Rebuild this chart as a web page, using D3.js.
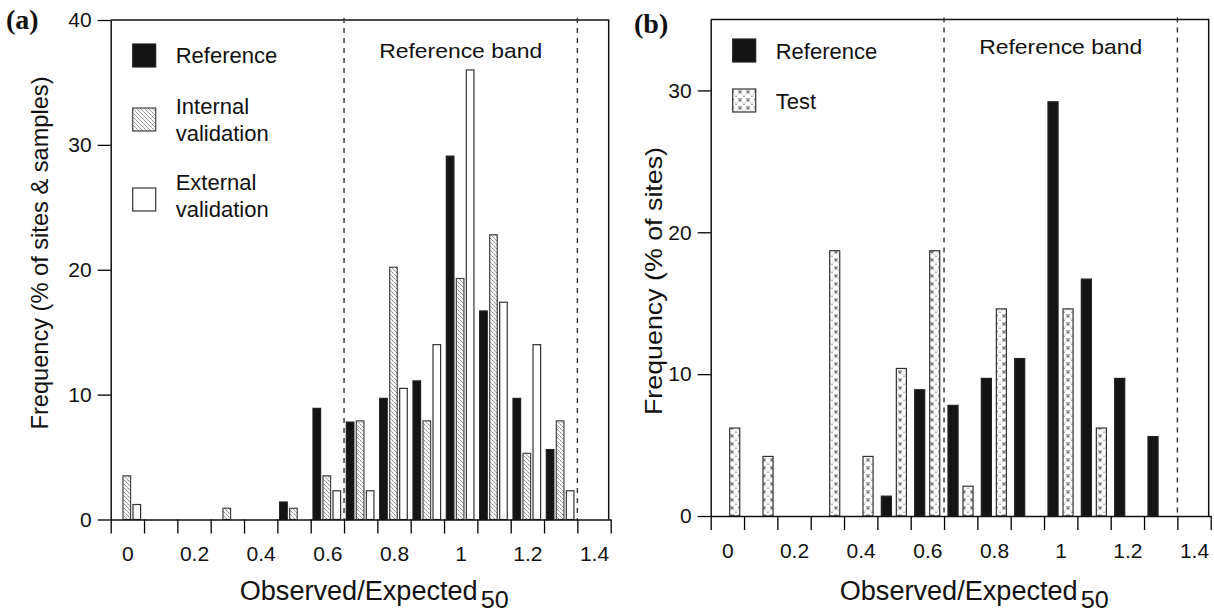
<!DOCTYPE html>
<html>
  <head>
    <meta charset="utf-8" />
    <title>Observed/Expected histograms</title>
    <script src="https://d3js.org/d3.v7.min.js"></script>
    <style>
      body { margin: 0; background: white; }
      svg text { font-family: "Liberation Sans", Arial, sans-serif; fill: #111; }
      .panel-tag { font-family: "Liberation Serif", "Times New Roman", serif; font-weight: bold; }
    </style>
  </head>
  <body>
    <svg id="viz"></svg>
    <script>

    // bins of Observed/Expected50 (bin centres)
    var categories = [0, 0.1, 0.2, 0.3, 0.4, 0.5, 0.6, 0.7, 0.8, 0.9, 1.0, 1.1, 1.2, 1.3, 1.4];
    var xTickLabels = [0, 0.2, 0.4, 0.6, 0.8, 1, 1.2, 1.4];
    var bandLimits = [0.65, 1.35];

    // panel (a) - % of sites & samples
    var refA      = [0, 0, 0, 0,   0, 1.4, 8.9, 7.8,  9.7, 11.1, 29.1, 16.7,  9.7, 5.6, 0];
    var internalA = [3.5, 0, 0, 0.9, 0, 0.9, 3.5, 7.9, 20.2, 7.9, 19.3, 22.8, 5.3, 7.9, 0];
    var externalA = [1.2, 0, 0, 0,   0, 0,   2.3, 2.3, 10.5, 14.0, 36.0, 17.4, 14.0, 2.3, 0];
    var yTicksA = [0, 10, 20, 30, 40];

    // panel (b) - % of sites
    var refB  = [0, 0, 0, 0, 0, 1.4, 8.9, 7.8, 9.7, 11.1, 29.2, 16.7, 9.7, 5.6, 0];
    var testB = [6.2, 4.2, 0, 18.7, 4.2, 10.4, 18.7, 2.1, 14.6, 0, 14.6, 6.2, 0, 0, 0];
    var yTicksB = [0, 10, 20, 30];

    var width = 1214, height = 615;

    var svg = d3.select("#viz")
      .attr("width", width)
      .attr("height", height);

    // fill patterns
    var defs = svg.append("defs");

    var pInt = defs.append("pattern")
      .attr("id", "patInternal")
      .attr("patternUnits", "userSpaceOnUse")
      .attr("width", 4).attr("height", 4);
    pInt.append("rect").attr("width", 4).attr("height", 4).attr("fill", "#f7f7f7");
    pInt.append("path").attr("d", "M0.3,0.3 L1.5,1.5 M2.3,2.3 L3.5,3.5")
      .attr("stroke", "#666").attr("stroke-width", 1);

    var pTest = defs.append("pattern")
      .attr("id", "patTest")
      .attr("patternUnits", "userSpaceOnUse")
      .attr("width", 8).attr("height", 8);
    pTest.append("rect").attr("width", 8).attr("height", 8).attr("fill", "#fbfbfb");
    pTest.append("path").attr("d", "M0,0 L8,8 M8,0 L0,8")
      .attr("stroke", "#999").attr("stroke-width", 0.8).attr("stroke-dasharray", "1.5,1.5");
    pTest.append("circle").attr("cx", 4).attr("cy", 4).attr("r", 1.2)
      .attr("fill", "none").attr("stroke", "#444").attr("stroke-width", 0.8);

    var styles = {
      ref:      { fill: "#141414", stroke: "#222" },
      internal: { fill: "url(#patInternal)", stroke: "#444" },
      external: { fill: "#ffffff", stroke: "#333" },
      test:     { fill: "url(#patTest)", stroke: "#333" }
    };

    function drawPanel(opt) {
      var g = svg.append("g");
      var catW = 500 / categories.length;

      var x = d3.scaleLinear()
        .domain([categories[0] - 0.05, categories[categories.length - 1] + 0.05])
        .range([opt.x0, opt.x0 + 500]);

      var y = d3.scaleLinear()
        .domain([0, opt.yMax])
        .range([opt.yZero, opt.yTop]);

      var inner = d3.scaleBand()
        .domain(opt.series.map(function(s) { return s.key; }))
        .range([0, catW])
        .paddingInner(opt.padInner)
        .paddingOuter(opt.padOuter)
        .align(opt.align);

      // frame: top and right
      g.append("path")
        .attr("d", "M" + opt.x0 + "," + opt.yTop + "H" + (opt.x0 + 498) + "V" + opt.yZero)
        .attr("fill", "none").attr("stroke", "#111").attr("stroke-width", 1.5);

      // reference band lines
      g.selectAll(".band").data(bandLimits).enter().append("line")
        .attr("x1", function(d) { return x(d); })
        .attr("x2", function(d) { return x(d); })
        .attr("y1", opt.yTop - 2).attr("y2", opt.yZero)
        .attr("stroke", "#333").attr("stroke-width", 1.4)
        .attr("stroke-dasharray", "5,5");

      // bars
      opt.series.forEach(function(s) {
        var rows = categories.map(function(c, i) { return { c: c, v: s.values[i] }; })
          .filter(function(d) { return d.v > 0; });
        g.selectAll(".bar-" + s.key).data(rows).enter().append("rect")
          .attr("x", function(d) { return x(d.c - 0.05) + inner(s.key); })
          .attr("width", inner.bandwidth())
          .attr("y", function(d) { return y(d.v); })
          .attr("height", function(d) { return y(0) - y(d.v); })
          .attr("fill", styles[s.key].fill)
          .attr("stroke", styles[s.key].stroke)
          .attr("stroke-width", 1.2);
      });

      // y axis
      var yAxis = g.append("g")
        .attr("transform", "translate(" + opt.x0 + ",0)")
        .call(d3.axisLeft(y).tickValues(opt.yTicks).tickSize(13).tickPadding(6).tickSizeOuter(0));
      yAxis.select(".domain").attr("stroke-width", 1.5).attr("stroke", "#111");
      yAxis.selectAll(".tick line").attr("stroke-width", 1.3);
      yAxis.selectAll("text").style("font-size", "21px").attr("fill", "#111");

      // x axis: tick marks at bin edges
      var edges = categories.map(function(c) { return c - 0.05; })
        .concat([categories[categories.length - 1] + 0.05]);
      var xAxis = g.append("g")
        .attr("transform", "translate(0," + opt.yZero + ")")
        .call(d3.axisBottom(x).tickValues(edges).tickSize(14).tickSizeOuter(0).tickFormat(""));
      xAxis.select(".domain").attr("stroke-width", 1.5).attr("stroke", "#111");
      xAxis.selectAll(".tick line").attr("stroke-width", 1.3);

      // x labels at bin centres
      var xLab = g.append("g")
        .attr("transform", "translate(0," + opt.yZero + ")")
        .call(d3.axisBottom(x).tickValues(xTickLabels).tickSize(0).tickPadding(27)
          .tickFormat(function(d) { return String(d); }));
      xLab.select(".domain").remove();
      xLab.selectAll("text").style("font-size", "21px").attr("fill", "#111");

      // axis titles
      g.append("text")
        .attr("x", opt.x0 + 129).attr("y", 600)
        .attr("textLength", 238).attr("lengthAdjust", "spacingAndGlyphs")
        .style("font-size", "27px")
        .text("Observed/Expected");
      g.append("text")
        .attr("x", opt.x0 + 370).attr("y", 608)
        .attr("textLength", 28).attr("lengthAdjust", "spacingAndGlyphs")
        .style("font-size", "24px")
        .text("50");

      g.append("text")
        .attr("transform", "translate(" + opt.yLabX + "," + opt.yLabY + ") rotate(-90)")
        .attr("text-anchor", "middle")
        .attr("textLength", opt.yLabLen).attr("lengthAdjust", "spacingAndGlyphs")
        .style("font-size", "24px")
        .text(opt.yLabel);

      g.append("text")
        .attr("x", (x(bandLimits[0]) + x(bandLimits[1])) / 2).attr("y", opt.bandY)
        .attr("text-anchor", "middle")
        .attr("textLength", 163).attr("lengthAdjust", "spacingAndGlyphs")
        .style("font-size", "21px")
        .text("Reference band");

      g.append("text")
        .attr("class", "panel-tag")
        .attr("x", opt.tagX).attr("y", opt.tagY)
        .style("font-size", "28px")
        .text(opt.tag);

      // legend
      opt.legend.forEach(function(l) {
        g.append("rect")
          .attr("x", opt.x0 + 22).attr("y", l.y)
          .attr("width", 23).attr("height", 23)
          .attr("fill", styles[l.key].fill)
          .attr("stroke", styles[l.key].stroke)
          .attr("stroke-width", 1.2);
        l.lines.forEach(function(t, i) {
          g.append("text")
            .attr("x", opt.x0 + 65).attr("y", l.base + i * 27)
            .style("font-size", "22px")
            .text(t);
        });
      });
    }

    drawPanel({
      x0: 110.7, yTop: 20, yZero: 519.5, yMax: 40, yTicks: yTicksA,
      series: [
        { key: "ref", values: refA },
        { key: "internal", values: internalA },
        { key: "external", values: externalA }
      ],
      padInner: 0.24, padOuter: 0.285, align: 0.4,
      yLabel: "Frequency (% of sites & samples)", yLabX: 48, yLabY: 253, yLabLen: 353,
      bandY: 58, tag: "(a)", tagX: 6, tagY: 29,
      legend: [
        { key: "ref", y: 44, base: 63, lines: ["Reference"] },
        { key: "internal", y: 108, base: 114, lines: ["Internal", "validation"] },
        { key: "external", y: 188, base: 190, lines: ["External", "validation"] }
      ]
    });

    drawPanel({
      x0: 710.7, yTop: 19.5, yZero: 516, yMax: 35, yTicks: yTicksB,
      series: [
        { key: "ref", values: refB },
        { key: "test", values: testB }
      ],
      padInner: 0.33, padOuter: 0.275, align: 0.48,
      yLabel: "Frequency (% of sites)", yLabX: 662, yLabY: 281, yLabLen: 268,
      bandY: 54, tag: "(b)", tagX: 634, tagY: 33,
      legend: [
        { key: "ref", y: 39, base: 59, lines: ["Reference"] },
        { key: "test", y: 89, base: 109, lines: ["Test"] }
      ]
    });

    </script>
  </body>
</html>
